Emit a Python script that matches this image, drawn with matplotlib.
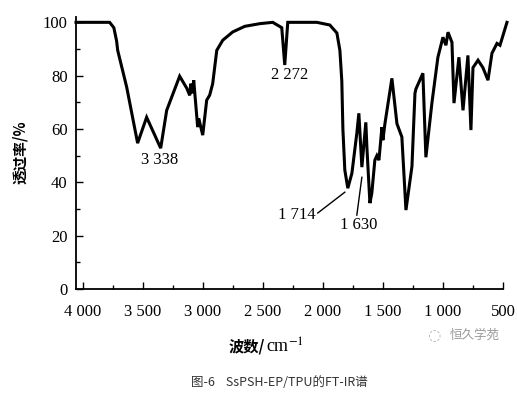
import matplotlib
matplotlib.use("Agg")
import matplotlib.pyplot as plt
from matplotlib.ticker import MultipleLocator, FuncFormatter

# ---- data ----
wavenumber = [4055, 3775, 3740, 3717, 3708, 3633, 3542, 3467, 3350, 3300, 3192, 3133,
              3108, 3100, 3083, 3075, 3042, 3033, 3000, 2967, 2942, 2917, 2883, 2833,
              2750, 2650, 2525, 2417, 2342, 2317, 2292, 2050, 1942, 1883, 1858, 1842,
              1833, 1817, 1792, 1758, 1717, 1700, 1675, 1642, 1633, 1608, 1592, 1567,
              1550, 1533, 1508, 1500, 1483, 1425, 1383, 1342, 1308, 1258, 1233, 1225,
              1167, 1142, 1092, 1042, 1000, 975, 958, 925, 908, 867, 833, 792, 767,
              750, 708, 667, 625, 592, 550, 525, 467]
transmittance = [100, 100, 98, 93, 89.5, 75.7, 54.7, 64.4, 52.8, 67, 79.8, 75.3,
                 72.6, 77, 73.4, 78.3, 60.7, 64, 57.7, 70.8, 72.7, 77, 89.5, 93.3,
                 96.4, 98.5, 99.5, 100, 98, 84, 100, 100, 99, 96, 89.5, 78,
                 60, 44.6, 37.8, 43.4, 58.4, 65.9, 45.7, 62.5, 53, 32.2, 36, 48.3,
                 50, 48.3, 60.7, 55.8, 62, 79, 62, 57, 29.6, 46, 73.4, 75,
                 80.9, 49.4, 69.7, 86.9, 94.4, 91.4, 96.3, 92.5, 69.7, 86.9, 67, 87.6, 59.6,
                 83, 85.8, 83, 78.3, 88.4, 92.1, 91.4, 100]

x_ticks = [4000, 3500, 3000, 2500, 2000, 1500, 1000, 500]
y_ticks = [0, 20, 40, 60, 80, 100]

peak_labels = ["3 338", "2 272", "1 714", "1 630"]
peak_text_pos = [(3358, 48.3), (2275, 80.1), (2217, 27.7), (1700, 24.0)]
peak_line_from = [None, None, (2042, 28.5), (1717, 27.7)]
peak_line_to = [None, None, (1817, 36.3), (1675, 41.9)]

x_label_cn = "波数/"
x_label_unit = "cm$^{-1}$"
y_label = "透过率/%"
caption = "图-6    SsPSH-EP/TPU的FT-IR谱"
watermark = "恒久学苑"

plt.rcParams["mathtext.fontset"] = "stix"

# ---- figure ----
W, H = 517, 398
fig = plt.figure(figsize=(W / 100, H / 100), dpi=100)
left, right, bottom, top = 76, 503, 289, 17
ax = fig.add_axes([left / W, 1 - bottom / H, (right - left) / W, (bottom - top) / H])

serif = ["Liberation Serif", "DejaVu Serif"]
cjk = ["Noto Sans CJK SC", "DejaVu Sans"]

ax.plot(wavenumber, transmittance, color="black", lw=2.2, solid_joinstyle="miter",
        clip_on=False)
ax.set_xlim(4055, 500)
ax.set_ylim(0, 102)

for s in ["top", "right"]:
    ax.spines[s].set_visible(False)
for s in ["left", "bottom"]:
    ax.spines[s].set_linewidth(1.3)

ax.set_xticks(x_ticks)
ax.set_yticks(y_ticks)
ax.xaxis.set_minor_locator(MultipleLocator(250))
ax.yaxis.set_minor_locator(MultipleLocator(10))
ax.xaxis.set_major_formatter(FuncFormatter(lambda v, p: f"{int(v):,}".replace(",", " ")))
ax.tick_params(which="both", direction="in", width=1.0)
ax.tick_params(which="major", length=5, labelsize=12)
ax.tick_params(axis="x", which="major", pad=11)
ax.tick_params(axis="y", which="major", pad=6)
ax.tick_params(which="minor", length=3)
for lab in ax.get_xticklabels() + ax.get_yticklabels():
    lab.set_fontfamily(serif)

for lbl, pos, p0, p1 in zip(peak_labels, peak_text_pos, peak_line_from, peak_line_to):
    ax.text(pos[0], pos[1], lbl, ha="center", va="center", fontsize=12, family=serif)
    if p0 is not None:
        ax.plot([p0[0], p1[0]], [p0[1], p1[1]], color="black", lw=1.0)

fig.text(20 / W, 1 - 152 / H, y_label, rotation=90, ha="center", va="center",
         fontsize=10.5, family=cjk, fontweight="bold")
fig.text(265 / W, 1 - 347 / H, x_label_cn, ha="right", va="center", fontsize=11,
         family=cjk, fontweight="bold")
fig.text(266 / W, 1 - 347 / H, x_label_unit, ha="left", va="center", fontsize=13,
         family=serif)
fig.text(279 / W, 1 - 382 / H, caption, ha="center", va="center", fontsize=9,
         family=cjk, color="#333333")
fig.text(475 / W, 1 - 335 / H, watermark, ha="center", va="center", fontsize=9,
         family=cjk, color="#9a9a9a")
fig.text(434 / W, 1 - 336 / H, "◌", ha="center", va="center", fontsize=11,
         family=["DejaVu Sans"], color="#b0b0b0")

fig.savefig("out.png", dpi=100)
